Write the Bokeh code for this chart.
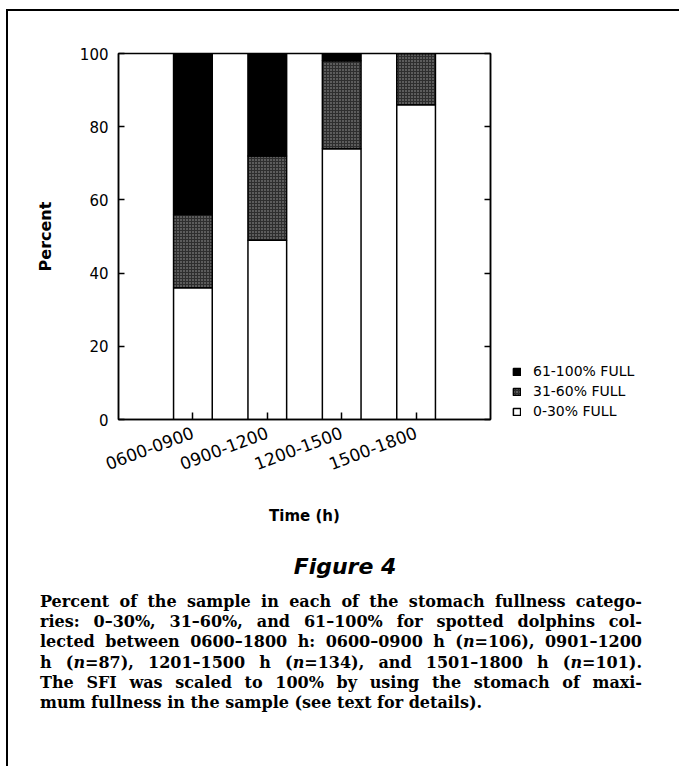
import numpy as np
from bokeh.plotting import figure
from bokeh.layouts import column, row
from bokeh.models import (Range1d, FactorRange, LinearAxis, FixedTicker, Legend,
                          LegendItem, ColumnDataSource, CustomJSTickFormatter, Div)
from bokeh.embed import file_html
from bokeh.resources import INLINE

# ---------------- data ----------------
categories = ["0600-0900", "0900-1200", "1200-1500", "1500-1800"]
pct_0_30 = [36, 49, 74, 86]
pct_31_60 = [20, 23, 24, 14]
pct_61_100 = [44, 28, 2, 0]
y_ticks = [0, 20, 40, 60, 80, 100]
legend_labels = ["61-100% FULL", "31-60% FULL", "0-30% FULL"]
x_label = "Time (h)"
y_label = "Percent"
fig_title = "Figure 4"
caption_lines = [
    "Percent of the sample in each of the stomach fullness catego-",
    "ries: 0\u201330%, 31\u201360%, and 61\u2013100% for spotted dolphins col-",
    "lected between 0600\u20131800 h: 0600\u20130900 h (n=106), 0901\u20131200",
    "h (n=87), 1201\u20131500 h (n=134), and 1501\u20131800 h (n=101).",
    "The SFI was scaled to 100% by using the stomach of maxi-",
    "mum fullness in the sample (see text for details).",
]

# ---------------- layout ----------------
ORIGIN_X, ORIGIN_Y = 8, 11          # page position of the content (margin + border)
TOTAL_W = 671
FRAME_W, FRAME_H = 372, 366
BL, BT, BR = 110, 42, 8
MAIN_H = 529
BB = MAIN_H - BT - FRAME_H
MAIN_W = BL + FRAME_W + BR
LEG_W = TOTAL_W - MAIN_W
CAP_H = 226
CAP_TOP = ORIGIN_Y + MAIN_H          # page y where caption block starts
FRAME_BOTTOM = ORIGIN_Y + BT + FRAME_H

FILLS = ["white", "#2e2e2e", "black"]
HATCH = dict(hatch_pattern="dot", hatch_color="#a0a0a0", hatch_scale=3, hatch_weight=1)

low = np.array(pct_0_30, dtype=float)
mid = np.array(pct_31_60, dtype=float)
high = np.array(pct_61_100, dtype=float)

source = ColumnDataSource(dict(
    cat=categories,
    low_top=low,
    mid_bottom=low,
    mid_top=low + mid,
    high_bottom=low + mid,
    high_top=low + mid + high,
))

p = figure(frame_width=FRAME_W, frame_height=FRAME_H,
           x_range=FactorRange(*categories, range_padding=0.25),
           y_range=Range1d(0, 100),
           output_backend="svg", toolbar_location=None,
           min_border_left=BL, min_border_right=BR,
           min_border_top=BT, min_border_bottom=BB,
           background_fill_color="white", border_fill_color="white")

p.xgrid.grid_line_color = None
p.ygrid.grid_line_color = None
p.outline_line_color = "black"
p.outline_line_width = 1.5

BAR_W = 0.52
STYLE = [dict(fill_color=FILLS[0]), dict(fill_color=FILLS[1], **HATCH), dict(fill_color=FILLS[2])]
SEGS = [(0, "low_top"), ("mid_bottom", "mid_top"), ("high_bottom", "high_top")]
for (b, t), st in zip(SEGS, STYLE):
    p.vbar(x="cat", bottom=b, top=t, width=BAR_W, source=source,
           line_color="black", line_width=1.5, **st)

# axes
font = "DejaVu Sans"
yax = p.yaxis[0]
yax.ticker = FixedTicker(ticks=y_ticks)
yax.major_tick_in = 6
yax.major_tick_out = 0
yax.minor_tick_line_color = None
yax.axis_line_width = 1.5
yax.major_tick_line_width = 1.5
yax.major_label_text_font = font
yax.major_label_text_font_size = "15px"
yax.major_label_text_color = "black"
yax.major_label_standoff = 10
yax.axis_label = y_label
yax.axis_label_text_font = font
yax.axis_label_text_font_style = "bold"
yax.axis_label_text_font_size = "16px"
yax.axis_label_text_color = "black"
yax.axis_label_standoff = 22

xax = p.xaxis[0]
xax.major_tick_in = 7
xax.major_tick_out = 0
xax.axis_line_width = 1.5
xax.major_tick_line_width = 1.5
xax.major_label_orientation = 0.36
xax.major_label_text_font = font
xax.major_label_text_font_size = "17px"
xax.major_label_text_color = "black"
xax.major_label_standoff = 12
xax.axis_label = x_label
xax.axis_label_text_font = font
xax.axis_label_text_font_style = "bold"
xax.axis_label_text_font_size = "15px"
xax.axis_label_text_color = "black"
xax.axis_label_standoff = 28

rax = LinearAxis(ticker=FixedTicker(ticks=y_ticks), major_tick_in=6, major_tick_out=0,
                 minor_tick_line_color=None, axis_line_width=1.5, major_tick_line_width=1.5,
                 major_label_standoff=0,
                 formatter=CustomJSTickFormatter(code="return ''"))
p.add_layout(rax, "right")

# ---------------- legend panel (beside the chart) ----------------
# same data and styles; the panel's x range holds no time factor, so only the legend shows
pl = figure(width=LEG_W, height=MAIN_H,
            x_range=FactorRange(factors=["legend"]), y_range=Range1d(0, 100),
            output_backend="svg", toolbar_location=None,
            x_axis_location=None, y_axis_location=None, min_border=0,
            outline_line_color=None, background_fill_color="white",
            border_fill_color="white")
pl.grid.visible = False
sw = []
for (b, t), st in zip(SEGS, STYLE):
    sw.append(pl.vbar(x="cat", bottom=b, top=t, width=BAR_W, source=source,
                      line_color="black", line_width=1.5, **st))
legend = Legend(items=[LegendItem(label=legend_labels[0], renderers=[sw[2]]),
                       LegendItem(label=legend_labels[1], renderers=[sw[1]]),
                       LegendItem(label=legend_labels[2], renderers=[sw[0]])],
                location=(512 - (ORIGIN_X + MAIN_W), FRAME_BOTTOM - 421),
                padding=0, margin=0, spacing=0,
                glyph_width=9, glyph_height=9, label_standoff=12, label_height=20,
                label_text_font=font, label_text_font_size="14px",
                label_text_color="black",
                border_line_color=None, background_fill_alpha=0)
pl.add_layout(legend, "center")

# ---------------- caption block ----------------
line_h = 20.2
first_center = 602 - CAP_TOP
parts = []
for i, line in enumerate(caption_lines):
    html_line = line.replace("(n=", "(<i>n</i>=")
    last = i == len(caption_lines) - 1
    align = "text-align:left;" if last else "text-align:justify;text-align-last:justify;"
    top = first_center - line_h / 2 + i * line_h
    parts.append(
        f'<div style="position:absolute;left:{40 - ORIGIN_X}px;top:{top:.1f}px;width:602px;'
        f'height:{line_h}px;line-height:{line_h}px;{align}">{html_line}</div>')
title_html = (f'<div style="position:absolute;left:0px;top:{567 - CAP_TOP - 13}px;'
              f'width:{2 * (345 - ORIGIN_X)}px;height:26px;line-height:26px;text-align:center;'
              f'font-family:\'{font}\';font-weight:bold;font-style:italic;font-size:22px;'
              f'color:black;">{fig_title}</div>')
cap_html = (f'<div style="position:relative;width:{TOTAL_W}px;height:{CAP_H}px;'
            f'font-family:\'DejaVu Serif\';font-weight:bold;font-size:16px;color:black;">'
            + title_html + "".join(parts) + "</div>")
cap = Div(text=cap_html, width=TOTAL_W, height=CAP_H, margin=0)

page = column(row(p, pl, spacing=0), cap, spacing=0)
page.margin = (9, 0, 0, 6)
page.styles = {"border-top": "2px solid black", "border-left": "2px solid black"}

open("out.html", "w").write(file_html(page, INLINE))
